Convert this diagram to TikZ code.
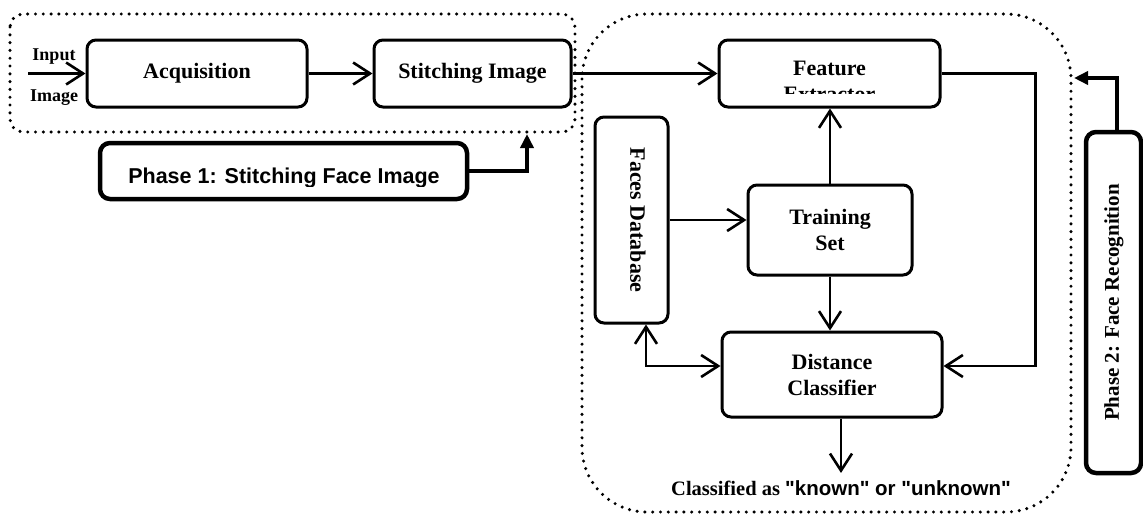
\documentclass[tikz,border=0pt]{standalone}
\usepackage{fontspec}
\setmainfont{Liberation Serif}
\newfontfamily\phasefont{Liberation Sans}
\usetikzlibrary{arrows.meta}

\begin{document}
\begin{tikzpicture}[x=1pt, y=-1pt,
    block/.style={draw, line width=3pt, rounded corners=9pt, align=center, inner sep=0pt,
        font=\fontsize{22}{26}\selectfont\bfseries},
    phase/.style={draw, line width=4.5pt, rounded corners=10pt, inner sep=0pt},
    barb/.tip={Straight Barb[length=17pt,width=22pt]},
    conn/.style={line width=2.6pt, -barb},
    conn2/.style={line width=2.6pt, barb-barb},
    thickarrow/.style={line width=4.5pt, -{Triangle[length=14pt,width=13pt]}},
    dots/.style={line width=3.4pt, line cap=round, dash pattern=on 0pt off 7.8pt}]
    \useasboundingbox (0,0) rectangle (1143,514);

    \draw[dots, rounded corners=13pt] (10,14) rectangle (575,132);
    \draw[dots, rounded corners=65pt] (582,14) rectangle (1071,512);

    \node[block, minimum width=220pt, minimum height=67pt] (acq) at (197,73.5) {Acquisition};
    \node[block, minimum width=197pt, minimum height=67pt] (stitch) at (472.5,73.5) {Stitching Image};
    \node[block, minimum width=221pt, minimum height=67pt] (fext) at (829.5,73.5) {};
    \begin{scope}
    \clip (719,40) rectangle (940,93);
    \node[block, draw=none, anchor=north] (fexttext) at (829.5,60) {Feature\\Extractor};
    \end{scope}
    \node[block, minimum width=73pt, minimum height=206pt] (fdb) at (631.5,220) {};
    \node[font=\fontsize{22}{26}\selectfont\bfseries, rotate=-90] (fdbtext) at (638,220) {Faces Database};
    \node[block, minimum width=164pt, minimum height=90pt] (train) at (830,230) {Training\\Set};
    \node[block, minimum width=220pt, minimum height=85pt] (dist) at (832,374.5) {Distance\\Classifier};
    \node[anchor=base, inner sep=7pt, font=\fontsize{20.5}{24}\selectfont\bfseries] (res) at (841,495)
        {Classified as {\phasefont\fontsize{20.5}{24}\selectfont "known" or "unknown"}};

    \node[phase, minimum width=367pt, minimum height=56pt] (ph1) at (283.5,171) {};
    \begin{scope}
    \clip (100,143) rectangle (467,186);
    \node[anchor=base, font=\phasefont\fontsize{21.5}{26}\selectfont\bfseries] (ph1text) at (284,183)
        {Phase 1: Stitching Face Image};
    \end{scope}
    \node[phase, minimum width=55pt, minimum height=341pt] (ph2) at (1113.5,302.5) {};
    \node[font=\fontsize{21}{26}\selectfont\bfseries, rotate=90] (ph2text) at (1114,302.5) {Phase 2: Face Recognition};

    \coordinate (inp) at (28,73.5);
    \coordinate (p1tip) at (527,134);
    \coordinate (p2tip) at (1074,78);
    \node[font=\fontsize{18}{22}\selectfont\bfseries] (inlabel) at (54,57) {Input};
    \node[font=\fontsize{18}{22}\selectfont\bfseries] (imlabel) at (54,98) {Image};

    \draw[conn] (inp) -- (acq.west);
    \draw[conn] (acq) -- (stitch);
    \draw[conn] (stitch) -- (fext);
    \draw[conn] (train.north) -- (train.north |- fext.south);
    \draw[conn] (fdb.east) -- (fdb.east -| train.west);
    \draw[conn] (train.south) -- (train.south |- dist.north);
    \draw[conn] (fext.east) -- ++(94,0) |- ([yshift=8.5pt]dist.east);
    \draw[conn2] ([xshift=14.5pt]fdb.south) |- ([yshift=8.5pt]dist.west);
    \draw[conn] (res.north |- dist.south) -- (res.north);
    \draw[thickarrow] (ph1.east) -| (p1tip);
    \draw[thickarrow] ([xshift=3.5pt]ph2.north) |- (p2tip);
\end{tikzpicture}
\end{document}
